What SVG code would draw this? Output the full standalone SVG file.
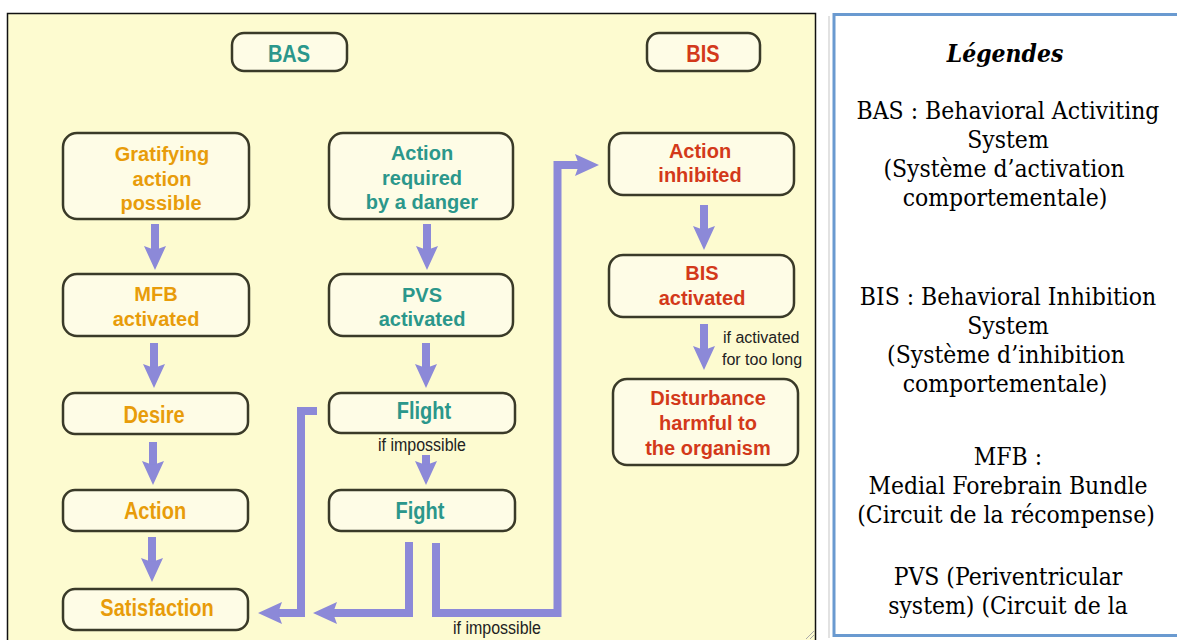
<svg xmlns="http://www.w3.org/2000/svg" width="1177" height="640" viewBox="0 0 1177 640">
<style>
.box{fill:#FEFCE6;stroke:#3A3A28;stroke-width:2.5}
.t{font-family:"Liberation Sans",Arial,sans-serif;font-weight:bold;font-size:20px;text-anchor:middle}
.o{fill:#E89C0A}
.g{fill:#2B978B}
.r{fill:#D3391A}
.lbl{font-family:"Liberation Sans",Arial,sans-serif;font-size:16px;fill:#222}
.arr{fill:none;stroke:#8C89D8;stroke-width:8;marker-end:url(#ah)}
.lg{font-family:"DejaVu Serif","Liberation Serif",serif;font-size:22px;fill:#000;text-anchor:middle}
</style>
<defs>
<marker id="ah" viewBox="0 0 24 22" refX="4" refY="11" markerWidth="24" markerHeight="22" markerUnits="userSpaceOnUse" orient="auto">
<path d="M0,0 L24,11 L0,22 L4,11 z" fill="#8C89D8"/>
</marker>
<clipPath id="lgclip"><rect x="836" y="16" width="341" height="602"/></clipPath>
</defs>
<rect x="0" y="0" width="1177" height="640" fill="#FFFFFF"/>
<rect id="panel" x="7.5" y="13.5" width="808" height="640" fill="#FDFBD0" stroke="#111" stroke-width="1.5"/>
<g id="grip" stroke="#aaa" stroke-width="1"><line x1="806" y1="639" x2="814" y2="631"/><line x1="810" y1="639" x2="814" y2="635"/></g>

<g id="connectors">
<path class="arr" d="M155,224 V250"/>
<path class="arr" d="M154,343 V368"/>
<path class="arr" d="M153,442 V465"/>
<path class="arr" d="M152,537 V562"/>
<path class="arr" d="M427,224 V250"/>
<path class="arr" d="M426,343 V368"/>
<path class="arr" d="M426,455 V465"/>
<path class="arr" d="M704,205 V230"/>
<path class="arr" d="M704,324 V350"/>
<path class="arr" d="M317,411 H301 V613 H278"/>
<path class="arr" d="M409,542 V613 H333"/>
<path class="arr" d="M436,543 V613 H557.5 V165 H579"/>
<text class="lbl" text-anchor="middle" transform="translate(422,451) scale(1,1.1)">if impossible</text>
<text class="lbl" text-anchor="middle" transform="translate(497,634) scale(1,1.1)">if impossible</text>
<text class="lbl" x="723" y="343">if activated</text>
<text class="lbl" x="722" y="365">for too long</text>
</g>

<g id="bas-header"><rect class="box" x="232" y="33" width="115" height="38" rx="12"/><text class="t g" transform="translate(289,61.5) scale(1,1.15)">BAS</text></g>
<g id="bis-header"><rect class="box" x="647" y="33" width="113" height="38" rx="12"/><text class="t r" transform="translate(703,61.5) scale(1,1.15)">BIS</text></g>

<g id="gratifying"><rect class="box" x="63" y="133" width="186" height="86" rx="14"/><text class="t o" x="162" y="160.5">Gratifying</text><text class="t o" x="162" y="185.5">action</text><text class="t o" x="161" y="209.5">possible</text></g>
<g id="mfb"><rect class="box" x="63" y="274" width="186" height="62" rx="14"/><text class="t o" x="156" y="300.5">MFB</text><text class="t o" x="156" y="325.5">activated</text></g>
<g id="desire"><rect class="box" x="63" y="393" width="185" height="41" rx="12"/><text class="t o" transform="translate(154,423) scale(1,1.15)">Desire</text></g>
<g id="action"><rect class="box" x="63" y="490" width="185" height="41" rx="12"/><text class="t o" transform="translate(155,519) scale(1,1.15)">Action</text></g>
<g id="satisfaction"><rect class="box" x="63" y="589" width="185" height="41" rx="12"/><text class="t o" transform="translate(157,616) scale(1,1.15)">Satisfaction</text></g>

<g id="danger"><rect class="box" x="329" y="133" width="184" height="86" rx="14"/><text class="t g" x="422" y="159.5">Action</text><text class="t g" x="422" y="184.5">required</text><text class="t g" x="422" y="208.5">by a danger</text></g>
<g id="pvs"><rect class="box" x="329" y="274" width="184" height="62" rx="14"/><text class="t g" x="422" y="301.5">PVS</text><text class="t g" x="422" y="325.5">activated</text></g>
<g id="flight"><rect class="box" x="329" y="393" width="186" height="40" rx="12"/><text class="t g" transform="translate(424,419) scale(1,1.15)">Flight</text></g>
<g id="fight"><rect class="box" x="329" y="490" width="186" height="41" rx="12"/><text class="t g" transform="translate(420,519) scale(1,1.15)">Fight</text></g>

<g id="inhibited"><rect class="box" x="609" y="133" width="185" height="62" rx="14"/><text class="t r" x="700" y="157.5">Action</text><text class="t r" x="700" y="181.5">inhibited</text></g>
<g id="bis-activated"><rect class="box" x="609" y="255" width="185" height="62" rx="14"/><text class="t r" x="702" y="279.5">BIS</text><text class="t r" x="702" y="304.5">activated</text></g>
<g id="disturbance"><rect class="box" x="613" y="379" width="185" height="86" rx="14"/><text class="t r" x="708" y="404.5">Disturbance</text><text class="t r" x="708" y="429.5">harmful to</text><text class="t r" x="708" y="454.5">the organism</text></g>

<g id="legend">
<line x1="829" y1="16" x2="829" y2="638" stroke="#E2E2E2" stroke-width="2"/>
<rect x="834" y="14.5" width="400" height="621" fill="#FFFFFF" stroke="#6A9AD0" stroke-width="3"/>
<g clip-path="url(#lgclip)">
<text class="lg" font-weight="bold" font-style="italic" transform="translate(1005,62) scale(1,1.1)">Légendes</text>
<text class="lg" transform="translate(1008,119) scale(1,1.1)">BAS : Behavioral Activiting</text>
<text class="lg" transform="translate(1008,148) scale(1,1.1)">System</text>
<text class="lg" transform="translate(1004,177) scale(1,1.1)">(Système d’activation</text>
<text class="lg" transform="translate(1005,206) scale(1,1.1)">comportementale)</text>
<text class="lg" transform="translate(1008,305) scale(1,1.1)">BIS : Behavioral Inhibition</text>
<text class="lg" transform="translate(1008,334) scale(1,1.1)">System</text>
<text class="lg" transform="translate(1006,363) scale(1,1.1)">(Système d’inhibition</text>
<text class="lg" transform="translate(1005,392) scale(1,1.1)">comportementale)</text>
<text class="lg" transform="translate(1008,465) scale(1,1.1)">MFB :</text>
<text class="lg" transform="translate(1008,494) scale(1,1.1)">Medial Forebrain Bundle</text>
<text class="lg" transform="translate(1006,523) scale(1,1.1)">(Circuit de la récompense)</text>
<text class="lg" transform="translate(1008,585) scale(1,1.1)">PVS (Periventricular</text>
<text class="lg" transform="translate(1008,614) scale(1,1.1)">system) (Circuit de la</text>
</g>
</g>
</svg>
